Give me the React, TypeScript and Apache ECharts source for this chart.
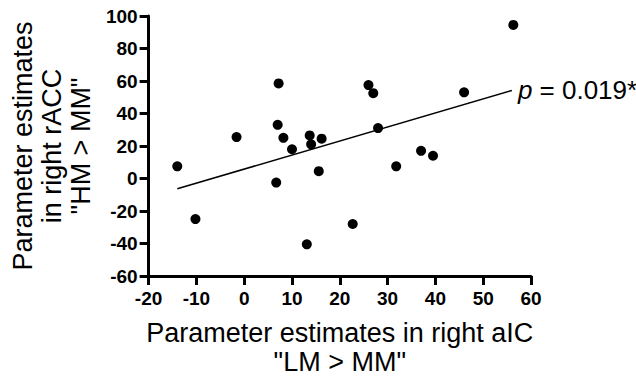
import React, { useEffect, useRef } from "react";
import * as echarts from "echarts";

const xValues = [7.2, 26, 27, 7, -1.6, 8.2, 13.7, 16.2, 14, 10, 28, 56.3, 46, -14, -10.2, 6.7, 15.6, 13.1, 22.7, 31.8, 37, 39.5];
const yValues = [58.5, 57.5, 52.5, 33, 25.5, 25, 26.5, 24.5, 21, 18, 31, 94.5, 53, 7.5, -25, -2.5, 4.5, -40.5, -28, 7.5, 17, 14];
const fitX = [-14, 56];
const fitY = [-6.3, 54.2];
const pLabel = "0.019*";
const xTitle = "Parameter estimates in right aIC\n\"LM > MM\"";
const yTitle = "Parameter estimates\nin right rACC\n\"HM > MM\"";

const FONT = "'Liberation Sans', Arial, sans-serif";

export default function App() {
  const ref = useRef<HTMLDivElement>(null);
  useEffect(() => {
    if (!ref.current) return;
    const chart = echarts.init(ref.current, undefined, { renderer: "svg" });
    const axisCommon = {
      axisLine: { show: true, onZero: false, lineStyle: { color: "#000", width: 3 } },
      axisTick: { show: true, length: 9, lineStyle: { color: "#000", width: 3 } },
      splitLine: { show: false },
      nameLocation: "middle" as const,
      nameTextStyle: { fontFamily: FONT, fontSize: 27, color: "#000", lineHeight: 29 },
    };
    chart.setOption({
      animation: false,
      backgroundColor: "#fff",
      grid: { left: 142, right: 105, top: 16, bottom: 104, containLabel: false },
      xAxis: {
        type: "value",
        min: -20,
        max: 60,
        interval: 10,
        name: xTitle,
        nameGap: 42,
        ...axisCommon,
        axisLabel: { fontFamily: FONT, fontSize: 19, fontWeight: "bold", color: "#000", margin: 13 },
      },
      yAxis: {
        type: "value",
        min: -60,
        max: 100,
        interval: 20,
        name: yTitle,
        nameGap: 52,
        ...axisCommon,
        axisLabel: { fontFamily: FONT, fontSize: 19, fontWeight: "bold", color: "#000", margin: 11 },
      },
      series: [
        {
          type: "scatter",
          symbol: "circle",
          symbolSize: 10,
          itemStyle: { color: "#000", opacity: 1 },
          data: xValues.map((x, i) => [x, yValues[i]]),
        },
        {
          type: "line",
          symbol: "none",
          lineStyle: { color: "#000", width: 1.5 },
          data: fitX.map((x, i) => [x, fitY[i]]),
          endLabel: {
            show: true,
            distance: 6,
            formatter: "{i|p}{n| = " + pLabel + "}",
            rich: {
              i: { fontFamily: FONT, fontSize: 26, fontStyle: "italic", color: "#000" },
              n: { fontFamily: FONT, fontSize: 26, color: "#000" },
            },
          },
        },
      ],
    });
    return () => chart.dispose();
  }, []);
  return (
    <div
      ref={ref}
      style={{ position: "fixed", left: 0, top: 0, width: 636, height: 381, background: "#fff" }}
    />
  );
}
